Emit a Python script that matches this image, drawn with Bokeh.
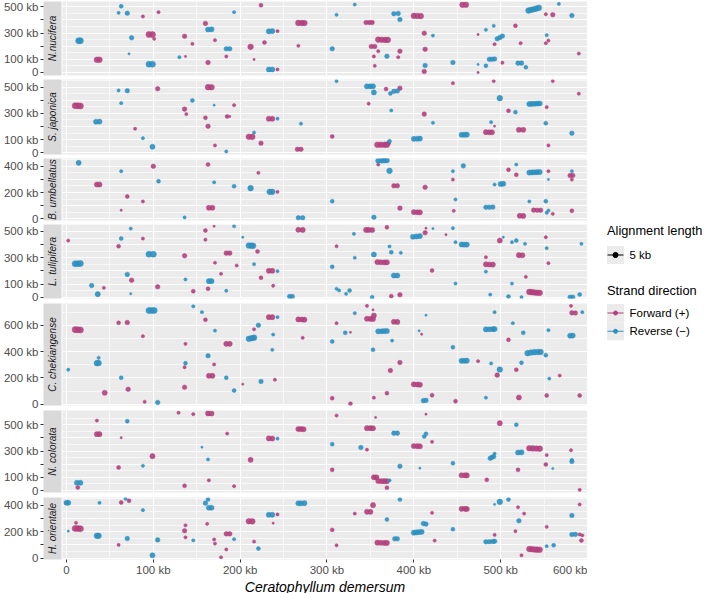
import math
from bokeh.plotting import figure
from bokeh.layouts import row, column
from bokeh.models import (ColumnDataSource, FixedTicker, Range1d, Label,
                          LinearAxis, Grid, CustomJSTickFormatter)
from bokeh.embed import file_html
from bokeh.resources import INLINE

# ---------------- data (kb) : (x, y, alignment length kb) ----------------
SPECIES = ["N.nucifera", "S. japonica", "B. umbellatus", "L. tulipifera",
           "C. chekiangense", "N. colorata", "H. orientale"]
X_LABEL = "Ceratophyllum demersum"
X_TICKS = [0, 100, 200, 300, 400, 500, 600]
X_MINOR = [50, 150, 250, 350, 450, 550]
STRAND_LABELS = ["Forward (+)", "Reverse (\u2212)"]
SIZE_LABEL = "5 kb"
SIZE_KEY_KB = 5

NUC_FWD = [(88,426,2),(106,459,2),(224,512,3),(160,373,4),(267,377,6),(271,376,6),(274,376,6),
           (243,314,2),(95,289,7),(99,288,7),(101,256,2),(136,276,4),(145,218,2),(171,246,2),
           (212,195,6),(228,228,3),(267,203,2),(35,97,6),(38,97,6),(137,122,1),(184,122,2),
           (163,76,4),(216,99,1),(243,23,2),(456,515,6),(460,515,6),(400,431,6),(404,430,6),
           (408,429,6),(552,443,2),(560,439,4),(345,380,4),(349,380,4),(352,380,4),(517,355,3),
           (412,299,4),(474,289,1),(359,250,6),(363,249,6),(367,248,6),(370,248,6),(351,198,4),
           (355,198,4),(359,162,2),(384,162,4),(413,177,4),(493,215,2),(523,223,2),(552,223,2),
           (555,243,2),(590,144,2),(354,122,2),(382,116,2),(502,74,2),(355,51,2),(412,8,4),(474,0,1)]
NUC_REV = [(63,504,3),(60,454,2),(70,451,4),(193,459,2),(163,327,5),(167,328,5),(233,313,5),
           (237,315,5),(14,241,7),(16,242,7),(75,264,4),(184,180,4),(188,180,4),(72,142,1),
           (130,116,2),(95,63,7),(99,63,7),(233,23,5),(237,23,5),(332,517,2),(532,471,6),
           (535,476,6),(538,481,6),(541,486,6),(544,492,6),(567,522,2),(311,439,2),(377,447,4),
           (382,449,4),(384,403,4),(582,433,4),(492,355,2),(422,281,2),(483,325,2),(496,256,4),
           (499,265,4),(502,277,4),(553,284,2),(306,180,4),(369,124,4),(445,76,4),(487,100,4),
           (490,101,4),(493,103,4),(520,71,4),(524,71,4),(474,61,1),(483,51,3),(529,40,3),(413,53,4)]

JAP_FWD = [(105,487,4),(163,499,6),(167,498,6),(10,358,7),(13,357,7),(16,356,7),(193,362,2),
           (136,332,4),(138,294,2),(160,266,3),(185,276,3),(188,276,1),(233,259,5),(237,259,5),
           (163,202,4),(79,183,2),(210,122,6),(214,121,6),(224,73,4),(171,56,2),(266,27,4),
           (270,27,4),(445,529,2),(492,545,2),(560,545,2),(368,484,3),(384,491,4),(590,449,2),
           (348,373,2),(553,347,2),(509,319,3),(412,294,4),(493,202,1),(521,175,5),(526,175,5),
           (483,157,5),(487,156,5),(490,156,5),(306,124,3),(358,61,6),(362,61,6),(366,61,6),
           (369,62,6),(371,73,3),(555,56,2)]
JAP_REV = [(60,474,2),(70,472,4),(145,398,3),(63,377,2),(170,362,1),(243,259,2),(34,236,5),
           (38,237,5),(216,154,2),(88,111,2),(99,46,5),(184,10,2),(311,545,2),(346,505,5),
           (350,505,5),(353,506,5),(354,459,5),(373,451,3),(377,467,4),(381,470,4),(499,415,6),
           (533,371,5),(536,372,5),(539,373,5),(542,374,5),(545,375,5),(374,322,2),(517,309,3),
           (270,221,2),(422,228,2),(489,233,2),(552,225,3),(582,149,4),(455,137,5),(458,137,5),
           (461,138,5),(400,106,5),(404,107,5),(407,108,5),(372,88,3)]

UMB_FWD = [(100,400,4),(163,413,3),(221,350,2),(35,261,5),(38,261,5),(243,205,2),(70,170,3),
           (88,132,2),(164,84,5),(168,84,5),(63,65,1),(359,413,2),(509,373,3),(518,335,3),
           (555,362,2),(580,329,4),(583,330,4),(582,299,2),(377,251,4),(381,251,4),(413,240,4),
           (445,299,2),(384,81,4),(400,51,5),(404,50,5),(407,49,5),(446,61,2),(538,66,4),
           (542,65,4),(546,65,4),(560,38,2),(582,61,3),(522,23,5),(526,22,5)]
UMB_REV = [(14,426,5),(63,362,2),(106,286,3),(170,278,2),(193,248,3),(212,233,6),(234,205,6),
           (237,205,6),(136,10,2),(267,8,4),(272,8,4),(359,442,5),(363,443,5),(366,444,5),
           (369,445,5),(372,365,6),(445,362,2),(457,403,4),(518,413,2),(533,352,5),(536,353,5),
           (539,354,5),(542,355,5),(545,356,5),(582,362,2),(555,299,1),(493,261,2),(500,265,5),
           (503,267,5),(306,134,3),(448,147,2),(533,132,2),(552,134,3),(483,88,4),(487,88,4),
           (491,89,4),(553,46,2),(555,63,2),(354,12,4)]

TUL_FWD = [(160,507,3),(170,540,1),(267,513,5),(272,512,5),(2,431,2),(88,446,2),(160,437,2),
           (60,388,3),(220,348,3),(136,315,4),(184,335,4),(188,335,4),(171,262,2),(196,241,2),
           (233,201,5),(237,201,5),(178,178,2),(75,129,4),(224,148,3),(43,71,2),(105,79,4),
           (238,87,2),(146,46,3),(163,64,3),(345,512,5),(348,512,5),(352,511,5),(369,532,3),
           (413,490,4),(414,525,1),(437,475,1),(499,431,5),(552,456,2),(311,388,2),(483,304,2),
           (521,320,5),(525,319,5),(555,259,2),(358,267,5),(362,266,5),(366,265,5),(369,265,5),
           (483,250,5),(487,249,5),(491,248,5),(421,203,3),(529,155,2),(374,8,3),(384,18,4),
           (533,40,6),(536,38,6),(539,36,6),(542,34,6),(545,33,6)]
TUL_REV = [(74,522,2),(193,540,2),(63,446,3),(203,456,1),(210,393,6),(213,392,6),(215,391,6),
           (95,327,7),(100,327,7),(10,254,7),(13,255,7),(16,256,7),(216,251,2),(243,198,2),
           (70,173,4),(137,135,2),(164,122,5),(167,122,5),(29,89,4),(184,49,2),(36,23,5),
           (74,26,1),(257,5,4),(260,5,4),(331,482,2),(399,460,5),(403,462,5),(407,465,5),
           (422,522,1),(445,525,2),(448,418,2),(455,401,5),(458,400,5),(461,400,5),(503,456,1),
           (513,418,2),(518,431,3),(528,406,2),(593,406,2),(553,373,2),(372,386,2),(374,342,3),
           (385,338,2),(354,325,5),(332,300,2),(306,231,3),(483,195,2),(377,165,5),(381,165,5),
           (448,104,2),(513,104,2),(311,64,2),(314,51,2),(326,51,3),(322,26,2),(352,0,3),
           (488,20,2),(509,5,3),(524,0,2),(580,0,4),(583,0,4),(591,20,3)]

CHE_FWD = [(160,642,3),(60,619,3),(70,621,4),(10,567,7),(13,566,7),(16,565,7),(233,662,5),
           (237,662,5),(267,645,5),(271,644,5),(274,643,5),(88,517,2),(216,502,2),(216,570,2),
           (137,459,2),(184,459,5),(188,459,5),(136,281,2),(170,302,2),(164,216,5),(168,216,5),
           (240,186,2),(203,152,1),(71,114,4),(136,129,4),(44,87,5),(90,18,2),(346,748,2),
           (353,718,1),(354,675,5),(346,650,5),(350,649,5),(353,648,5),(581,748,2),(582,695,4),
           (586,694,4),(311,616,2),(377,627,5),(381,626,5),(272,505,2),(327,547,1),(409,532,1),
           (509,490,3),(474,327,2),(384,317,4),(373,256,4),(518,262,3),(496,221,4),(568,218,2),
           (400,151,5),(404,150,5),(407,148,5),(306,46,3),(327,3,3),(354,49,2),(369,84,3),
           (421,68,3),(448,23,3),(521,51,5),(553,66,3),(591,66,3)]
CHE_REV = [(95,713,7),(98,713,7),(101,713,7),(146,745,2),(156,700,2),(243,662,2),(171,560,2),
           (221,601,4),(238,530,2),(210,498,6),(213,502,6),(216,506,6),(237,414,2),(163,368,4),
           (37,353,2),(35,312,6),(37,313,6),(137,312,3),(2,262,2),(63,201,3),(184,201,3),
           (224,173,4),(193,104,3),(105,13,4),(332,692,2),(414,677,1),(493,700,2),(594,700,2),
           (514,616,2),(321,543,3),(359,554,5),(363,555,5),(366,556,5),(369,557,5),(406,558,1),
           (483,569,5),(487,570,5),(491,571,5),(493,572,5),(526,543,3),(555,563,2),(580,521,5),
           (583,522,5),(306,477,3),(375,484,2),(353,414,3),(445,433,3),(531,388,6),(535,393,6),
           (539,396,6),(543,397,6),(546,397,6),(552,373,3),(455,330,5),(458,330,5),(461,331,5),
           (489,310,2),(524,315,3),(499,264,6),(556,195,2),(411,27,4),(414,29,4),(483,49,2)]

COL_FWD = [(129,591,2),(146,580,2),(163,586,5),(167,585,5),(35,532,2),(35,428,5),(38,428,5),
           (63,401,1),(185,433,2),(233,396,5),(237,395,5),(267,467,5),(270,467,5),(273,466,5),
           (99,261,5),(212,233,5),(60,175,3),(13,23,3),(136,36,3),(164,78,2),(193,33,2),
           (311,570,2),(356,555,1),(414,580,1),(346,474,5),(350,474,5),(353,473,5),(421,370,2),
           (346,310,2),(400,338,5),(404,337,5),(407,336,5),(499,512,5),(533,321,6),(537,320,6),
           (541,319,6),(545,318,6),(553,269,2),(581,306,2),(306,157,3),(455,116,5),(459,116,5),
           (461,115,5),(520,157,3),(552,198,3),(354,101,5),(357,100,5),(359,72,5),(363,71,5),
           (366,71,5),(369,71,5),(484,81,3),(369,21,3),(591,5,2)]
COL_REV = [(70,527,3),(243,395,2),(156,329,1),(163,236,2),(88,188,2),(12,59,5),(16,59,5),
           (377,436,4),(381,436,4),(414,431,3),(412,411,3),(306,352,3),(339,327,4),(518,500,3),
           (520,289,5),(524,290,5),(582,233,2),(493,281,2),(488,245,4),(490,252,4),(492,258,4),
           (384,185,4),(407,170,1),(445,208,3),(560,167,1),(582,221,4),(372,78,2)]

ORI_FWD = [(63,422,3),(72,435,3),(11,268,2),(10,225,7),(13,224,7),(16,223,7),(60,100,2),
           (137,249,2),(136,207,4),(137,158,2),(162,260,2),(170,141,2),(171,110,2),(184,184,4),
           (188,184,4),(184,65,2),(178,6,2),(216,125,2),(210,280,6),(214,279,6),(238,265,1),
           (243,331,2),(353,402,5),(346,352,5),(350,351,5),(332,338,2),(421,344,2),(455,374,5),
           (459,374,5),(461,373,5),(520,386,2),(527,338,2),(591,407,2),(306,214,3),(517,204,2),
           (553,237,2),(591,179,2),(594,173,2),(493,176,2),(358,117,5),(362,116,5),(366,115,5),
           (369,115,5),(424,133,2),(311,97,2),(593,133,3),(533,69,6),(536,67,6),(539,65,6),
           (542,64,6),(545,63,6),(524,21,2)]
ORI_REV = [(0,420,5),(2,420,5),(38,420,2),(68,450,2),(88,364,2),(160,417,4),(163,445,3),
           (164,382,5),(167,382,5),(267,416,5),(270,416,5),(274,417,5),(2,204,1),(35,169,6),
           (37,169,6),(70,148,4),(105,138,4),(146,135,2),(193,143,2),(99,21,5),(221,72,3),
           (233,329,5),(237,329,5),(384,445,3),(493,407,1),(499,427,6),(509,445,3),(521,283,4),
           (582,323,4),(369,293,3),(411,262,4),(414,258,4),(400,193,5),(403,195,5),(406,197,5),
           (409,199,5),(445,219,3),(582,179,4),(586,180,4),(378,146,4),(381,146,4),(483,123,4),
           (487,124,4),(491,126,4),(493,128,4),(561,97,3),(553,90,2)]

# y-axis breaks per panel
Y_BREAKS_5 = [0, 100, 200, 300, 400, 500]
Y_LABELED_5 = [0, 100, 300, 500]
Y_BREAKS_4 = [0, 100, 200, 300, 400]
Y_LABELED_4 = [0, 200, 400]
Y_BREAKS_C = [0, 200, 400, 600]
Y_LABELED_C = [0, 200, 400, 600]

# ---------------- styling ----------------
FONT = "Liberation Sans"
PANEL_BG = "#EBEBEB"
STRIP_BG = "#D9D9D9"
KEY_BG = "#EBEBEB"
FWD_COL = "#B2407D"
REV_COL = "#2C90C0"


def dot_size(kb):
    return 2.3 * math.sqrt(kb)


def kb_formatter(shown):
    return CustomJSTickFormatter(args=dict(shown=shown), code="""
        if (Math.abs(tick) < 1e-9) return "0";
        return shown.includes(Math.round(tick)) ? Math.round(tick) + " kb" : "";
    """)


def style_axis(ax):
    ax.axis_line_color = None
    ax.major_tick_out = 3
    ax.major_tick_in = 0
    ax.minor_tick_out = 0
    ax.minor_tick_in = 0
    ax.major_tick_line_color = "#333333"
    ax.major_tick_line_width = 1
    ax.major_label_text_color = "#4D4D4D"
    ax.major_label_text_font = FONT
    ax.major_label_text_font_size = "11.5px"
    ax.major_label_standoff = 2


XR = Range1d(-4.6, 600)

panels = [
    # name, fwd, rev, y range, frame h, breaks, labeled, minor, top border, bottom border
    (SPECIES[0], NUC_FWD, NUC_REV, (-23, 540), 74, Y_BREAKS_5, Y_LABELED_5, [50, 150, 250, 350, 450, 550], 1, 4),
    (SPECIES[1], JAP_FWD, JAP_REV, (-13, 557), 75, Y_BREAKS_5, Y_LABELED_5, [50, 150, 250, 350, 450, 550], 0, 4),
    (SPECIES[2], UMB_FWD, UMB_REV, (-13, 459), 62, Y_BREAKS_4, Y_LABELED_4, [50, 150, 250, 350, 450], 0, 4),
    (SPECIES[3], TUL_FWD, TUL_REV, (-10, 553), 74, Y_BREAKS_5, Y_LABELED_5, [50, 150, 250, 350, 450, 550], 0, 5),
    (SPECIES[4], CHE_FWD, CHE_REV, (-10, 766), 102, Y_BREAKS_C, Y_LABELED_C, [100, 300, 500, 700], 0, 5),
    (SPECIES[5], COL_FWD, COL_REV, (-15, 608), 82, Y_BREAKS_5, Y_LABELED_5, [50, 150, 250, 350, 450, 550], 0, 5),
    (SPECIES[6], ORI_FWD, ORI_REV, (-11, 460), 62, Y_BREAKS_4, Y_LABELED_4, [50, 150, 250, 350, 450], 0, 34),
]

rows = []
for i, (name, fwd, rev, yr, fh, breaks, labeled, minor, tb, bb) in enumerate(panels):
    last = i == len(panels) - 1
    yrng = Range1d(*yr)

    # strip + y axis
    s = figure(frame_width=18, frame_height=fh, x_range=Range1d(0, 1), y_range=yrng,
               x_axis_type=None, y_axis_type=None, output_backend="svg", toolbar_location=None,
               min_border_left=43, min_border_right=1, min_border_top=tb, min_border_bottom=bb)
    s.background_fill_color = STRIP_BG
    s.outline_line_color = None
    ya = LinearAxis(ticker=FixedTicker(ticks=breaks), formatter=kb_formatter(labeled))
    style_axis(ya)
    s.add_layout(ya, "left")
    s.add_layout(Label(x=0.5, y=(yr[0] + yr[1]) / 2, text=name, angle=math.pi / 2,
                       text_align="center", text_baseline="middle", text_font=FONT,
                       text_font_style="italic", text_font_size="10px", text_color="#1A1A1A"))

    # panel
    p = figure(frame_width=525, frame_height=fh, x_range=XR, y_range=yrng,
               x_axis_type=None, y_axis_type=None, output_backend="svg", toolbar_location=None,
               min_border_left=0, min_border_right=0, min_border_top=tb, min_border_bottom=bb)
    p.background_fill_color = PANEL_BG
    p.outline_line_color = None
    for dim, tk, mn in [(0, X_TICKS, X_MINOR), (1, breaks, minor)]:
        p.add_layout(Grid(dimension=dim, ticker=FixedTicker(ticks=tk, minor_ticks=mn),
                          grid_line_color="white", grid_line_width=1.1,
                          minor_grid_line_color="white", minor_grid_line_width=0.6))
    for pts, colr in [(fwd, FWD_COL), (rev, REV_COL)]:
        src = ColumnDataSource(dict(x=[t[0] for t in pts], y=[t[1] for t in pts],
                                    size=[dot_size(t[2]) for t in pts]))
        p.scatter("x", "y", size="size", source=src, marker="circle",
                  fill_color=colr, line_color=colr, line_width=0.5,
                  fill_alpha=0.9, line_alpha=0.9)
    if last:
        xa = LinearAxis(ticker=FixedTicker(ticks=X_TICKS), formatter=kb_formatter(X_TICKS),
                        axis_label=X_LABEL)
        style_axis(xa)
        xa.major_label_standoff = 1
        xa.axis_label_text_font = FONT
        xa.axis_label_text_font_style = "italic"
        xa.axis_label_text_font_size = "14px"
        xa.axis_label_text_color = "black"
        xa.axis_label_standoff = 0
        p.add_layout(xa, "below")
    rows.append(row(s, p))

# ---------------- legend panel (page-pixel coordinates) ----------------
leg = figure(frame_width=118, frame_height=497, x_range=Range1d(587, 705), y_range=Range1d(497, 0),
             x_axis_type=None, y_axis_type=None, output_backend="svg", toolbar_location=None,
             min_border_left=0, min_border_right=0, min_border_top=0, min_border_bottom=0)
leg.outline_line_color = None
leg.background_fill_color = "white"
leg.grid.visible = False

KX0, KX1 = 606.5, 623.5
key_rows = [(254.5, "black", dot_size(SIZE_KEY_KB), SIZE_LABEL),
            (312.5, FWD_COL, 4.0, STRAND_LABELS[0]),
            (330.8, REV_COL, 4.0, STRAND_LABELS[1])]
leg.quad(left=[KX0] * 3, right=[KX1] * 3,
         top=[k[0] - 9 for k in key_rows], bottom=[k[0] + 9 for k in key_rows],
         fill_color=KEY_BG, line_color=None)
leg.segment(x0=[KX0 + 0.5] * 3, x1=[KX1 - 0.5] * 3, y0=[k[0] for k in key_rows],
            y1=[k[0] for k in key_rows], line_color=[k[1] for k in key_rows], line_width=1.1)
leg.scatter(x=[(KX0 + KX1) / 2] * 3, y=[k[0] for k in key_rows], size=[k[2] for k in key_rows],
            fill_color=[k[1] for k in key_rows], line_color=[k[1] for k in key_rows], marker="circle")
for yk, _, _, txt in key_rows:
    leg.add_layout(Label(x=629, y=yk, text=txt, text_align="left", text_baseline="middle",
                         text_font=FONT, text_font_size="11.5px", text_color="black"))
for yt, txt in [(230, "Alignment length"), (290, "Strand direction")]:
    leg.add_layout(Label(x=606.5, y=yt, text=txt, text_align="left", text_baseline="middle",
                         text_font=FONT, text_font_size="12.8px", text_color="black"))

top = row(column(*rows[:6]), leg)
layout = column(top, rows[6])

open("out.html", "w").write(file_html(layout, INLINE))
